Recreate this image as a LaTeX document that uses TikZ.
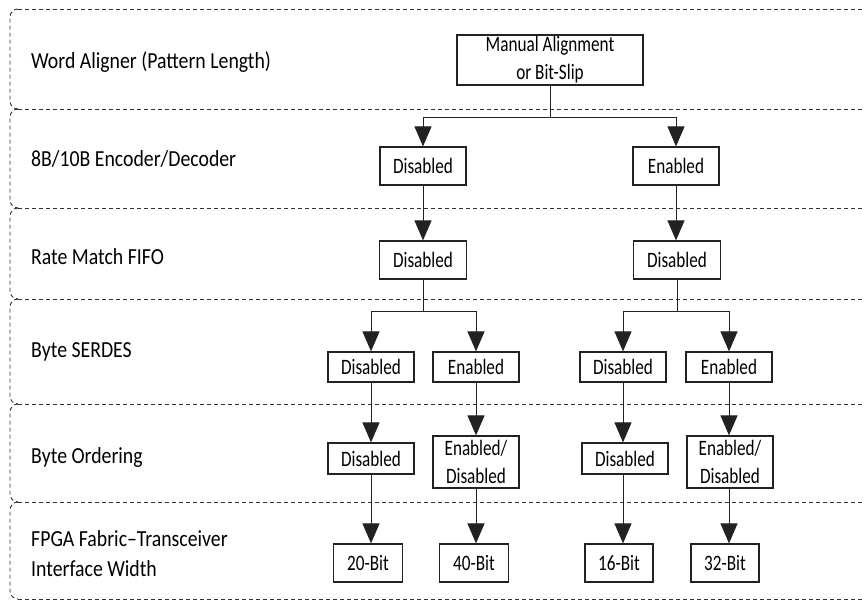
\documentclass[tikz,border=0pt]{standalone}
\usepackage{fontspec}
\setmainfont[FakeStretch=0.85]{Carlito}
\newfontfamily\boxfont[FakeStretch=0.78,Ligatures=TeX]{Carlito}
\newfontfamily\labfont[FakeStretch=0.86,Ligatures=TeX]{Carlito}
\usetikzlibrary{arrows.meta}
\definecolor{lanecol}{HTML}{333333}
\definecolor{boxcol}{HTML}{222222}
\tikzset{
  lanedash/.style={draw=lanecol, line width=0.9pt, dash pattern=on 4pt off 3pt},
  optbox/.style={draw=boxcol, line width=1.2pt, fill=white, inner sep=0pt, align=center,
                 font=\boxfont\fontsize{22}{28}\selectfont},
  lanelabel/.style={inner sep=0pt, align=left, font=\labfont\fontsize{23}{30}\selectfont},
  link/.style={draw=boxcol, line width=1pt},
  arr/.style={link, -{Triangle[length=20pt,width=17pt]}}
}
\begin{document}
\begin{tikzpicture}[x=1pt,y=-1pt]
\useasboundingbox (0,0) rectangle (867,601);
% lane boundaries
\foreach \yy in {9,109,208,299,404,502,599} {
  \draw[lanedash] (18,\yy) -- (863,\yy);
}
\foreach \ta/\tb in {9/109,109/208,208/299,299/404,404/502,502/599} {
  \draw[lanedash] (18,\ta) arc[start angle=270,end angle=180,radius=8] -- (10,\tb-8)
     arc[start angle=180,end angle=90,radius=8];
}
% lane labels
\node[lanelabel, anchor=base west] (l1) at (31,69) {Word Aligner (Pattern Length)};
\node[lanelabel, anchor=base west] (l2) at (31,167) {8B/10B Encoder/Decoder};
\node[lanelabel, anchor=base west] (l3) at (31,265) {Rate Match FIFO};
\node[lanelabel, anchor=base west] (l4) at (31,358) {Byte SERDES};
\node[lanelabel, anchor=base west] (l5) at (31,463) {Byte Ordering};
\node[lanelabel, anchor=west] (l6) at (31,554) {FPGA Fabric--Transceiver\\Interface Width};
% boxes
\node[optbox, minimum width=186pt, minimum height=50pt] (ma) at (550,60) {Manual Alignment\\or Bit-Slip};
\node[optbox, minimum width=86pt, minimum height=38pt] (e1) at (423,166) {Disabled};
\node[optbox, minimum width=86pt, minimum height=38pt] (e2) at (676,166) {Enabled};
\node[optbox, minimum width=87pt, minimum height=38pt] (r1) at (423,260) {Disabled};
\node[optbox, minimum width=87pt, minimum height=38pt] (r2) at (677,260) {Disabled};
\node[optbox, minimum width=86pt, minimum height=30pt] (s1) at (371,367) {Disabled};
\node[optbox, minimum width=86pt, minimum height=30pt] (s2) at (476,367) {Enabled};
\node[optbox, minimum width=86pt, minimum height=30pt] (s3) at (623,367) {Disabled};
\node[optbox, minimum width=86pt, minimum height=30pt] (s4) at (729,367) {Enabled};
\node[optbox, minimum width=86pt, minimum height=31pt] (o1) at (371,458.5) {Disabled};
\node[optbox, minimum width=86pt, minimum height=52pt] (o2) at (476,462) {Enabled/\\Disabled};
\node[optbox, minimum width=86pt, minimum height=31pt] (o3) at (625,458.5) {Disabled};
\node[optbox, minimum width=86pt, minimum height=52pt] (o4) at (730,462) {Enabled/\\Disabled};
\node[optbox, minimum width=69pt, minimum height=38pt] (w1) at (368,563) {20-Bit};
\node[optbox, minimum width=69pt, minimum height=38pt] (w2) at (474,563) {40-Bit};
\node[optbox, minimum width=68pt, minimum height=38pt] (w3) at (619,563) {16-Bit};
\node[optbox, minimum width=68pt, minimum height=38pt] (w4) at (725,563) {32-Bit};
% branch points
\coordinate (b1) at (550,118);
\coordinate (b2) at (423,312);
\coordinate (b3) at (677,312);
% connectors
\draw[link] (ma.south) -- (b1);
\draw[arr] (b1) -| (e1.north);
\draw[arr] (b1) -| (e2.north);
\draw[arr] (e1.south) -- (r1.north);
\draw[arr] (e2.south) -- (r2.north -| e2.south);
\draw[link] (r1.south) -- (b2);
\draw[arr] (b2) -| (s1.north);
\draw[arr] (b2) -| (s2.north);
\draw[link] (r2.south) -- (b3);
\draw[arr] (b3) -| (s3.north);
\draw[arr] (b3) -| (s4.north);
\draw[arr] (s1.south) -- (s1.south |- o1.north);
\draw[arr] (s2.south) -- (s2.south |- o2.north);
\draw[arr] (s3.south) -- (s3.south |- o3.north);
\draw[arr] (s4.south) -- (s4.south |- o4.north);
\draw[arr] (s1.south |- o1.south) -- (s1.south |- w1.north);
\draw[arr] (s2.south |- o2.south) -- (s2.south |- w2.north);
\draw[arr] (s3.south |- o3.south) -- (s3.south |- w3.north);
\draw[arr] (s4.south |- o4.south) -- (s4.south |- w4.north);
\end{tikzpicture}
\end{document}
